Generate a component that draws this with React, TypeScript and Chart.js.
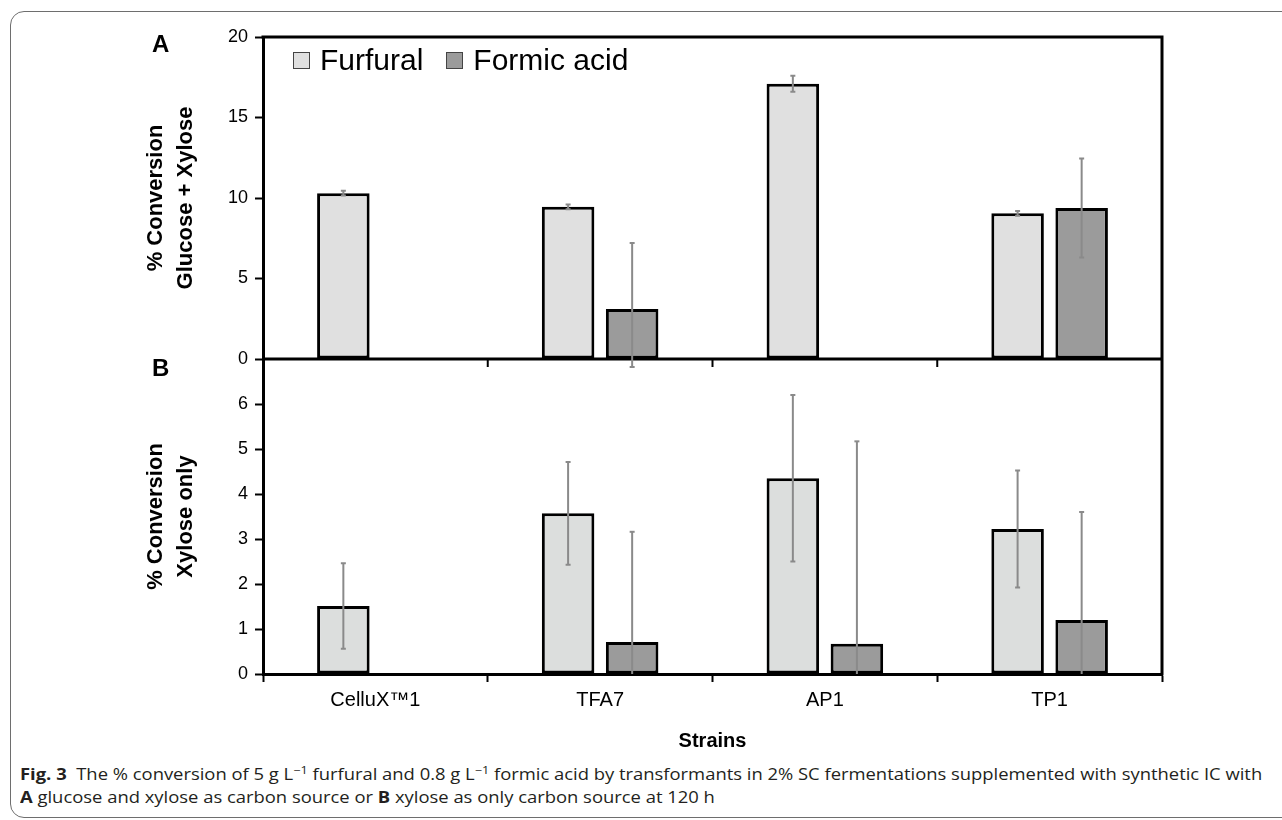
import React, { useEffect, useLayoutEffect, useRef, useState } from 'react';
import { Chart, registerables } from 'chart.js';

Chart.register(...registerables);

const FONT = '"Liberation Sans", Arial, Helvetica, sans-serif';

// ---- data ----
const categories = ['CelluX™1', 'TFA7', 'AP1', 'TP1'];
const seriesNames = ['Furfural', 'Formic acid'];
const seriesColors = ['#e0e0e0', '#9b9b9b'];

// Panel A: glucose + xylose
const furfuralA = [10.3, 9.45, 17.1, 9.05];
const furfuralAErr = [0.15, 0.15, 0.5, 0.15];
const formicA = [null, 3.1, null, 9.38];
const formicAErrUp = [null, 4.1, null, 3.08];
const formicAErrDown = [null, 3.6, null, 3.08];

// Panel B: xylose only
const furfuralB = [1.51, 3.57, 4.35, 3.22];
const furfuralBErr = [0.95, 1.14, 1.85, 1.3];
const formicB = [null, 0.71, 0.67, 1.2];
const formicBErr = [null, 2.45, 4.5, 2.4];

const ticksA = [0, 5, 10, 15, 20];
const ticksB = [0, 1, 2, 3, 4, 5, 6];
const rangeA = [0, 20];
const rangeB = [0, 7];
const titleA = ['% Conversion', 'Glucose + Xylose'];
const titleB = ['% Conversion', 'Xylose only'];
const xTitle = 'Strains';

const framePlugin = {
  id: 'frame',
  afterDatasetsDraw(chart: any) {
    const { ctx, chartArea, scales } = chart;
    const { left, right, top, bottom } = chartArea;
    ctx.save();
    ctx.strokeStyle = '#000';
    ctx.lineWidth = 3;
    ctx.beginPath();
    ctx.moveTo(left - 1.5, top);
    ctx.lineTo(right, top);
    ctx.lineTo(right, bottom + 1.5);
    ctx.stroke();
    const yd = scales.yA.bottom;
    ctx.beginPath();
    ctx.moveTo(left, yd);
    ctx.lineTo(right, yd);
    ctx.stroke();
    ctx.lineWidth = 2;
    const xs = scales.x;
    const n = categories.length;
    for (let i = 1; i < n; i++) {
      const x = xs.getPixelForValue(i - 0.5);
      ctx.beginPath();
      ctx.moveTo(x, yd);
      ctx.lineTo(x, yd + 8);
      ctx.stroke();
    }
    ctx.restore();
  },
};

const errorBarPlugin = {
  id: 'errorBars',
  afterDatasetsDraw(chart: any) {
    const { ctx, chartArea } = chart;
    ctx.save();
    ctx.strokeStyle = '#8a8a8a';
    ctx.lineWidth = 2;
    chart.data.datasets.forEach((ds: any, i: number) => {
      const meta = chart.getDatasetMeta(i);
      const ys = chart.scales[meta.yAxisID];
      meta.data.forEach((el: any, j: number) => {
        const v = ds.data[j];
        if (v == null) return;
        const up = ds.errUp ? ds.errUp[j] : null;
        const down = ds.errDown ? ds.errDown[j] : null;
        if (up == null || down == null) return;
        const x = el.x;
        const y1 = ys.getPixelForValue(v + up);
        let y2 = ys.getPixelForValue(v - down);
        const clipped = y2 > chartArea.bottom;
        if (clipped) y2 = chartArea.bottom;
        ctx.beginPath();
        ctx.moveTo(x, y1);
        ctx.lineTo(x, y2);
        ctx.stroke();
        ctx.beginPath();
        ctx.moveTo(x - 2.5, y1);
        ctx.lineTo(x + 2.5, y1);
        if (!clipped) {
          ctx.moveTo(x - 2.5, y2);
          ctx.lineTo(x + 2.5, y2);
        }
        ctx.stroke();
      });
    });
    ctx.restore();
  },
};

function yScale(stackWeight: number, range: number[], ticks: number[], title: string[]) {
  return {
    type: 'linear',
    position: 'left',
    stack: 'panels',
    stackWeight,
    stacked: false,
    min: range[0],
    max: range[1],
    afterBuildTicks: (s: any) => {
      s.ticks = ticks.map((v) => ({ value: v }));
    },
    afterFit: (s: any) => {
      s.width = 133;
    },
    grid: {
      drawOnChartArea: false,
      drawTicks: true,
      tickLength: 8,
      tickColor: '#000',
      tickWidth: 2,
    },
    border: { display: true, color: '#000', width: 3 },
    ticks: { color: '#000', font: { family: FONT, size: 18 }, padding: 7 },
    title: {
      display: true,
      text: title,
      color: '#000',
      font: { family: FONT, size: 22, weight: 'bold', lineHeight: 1.36 },
      padding: { top: 11, bottom: 0 },
    },
  };
}

export default function App() {
  const canvasRef = useRef<HTMLCanvasElement>(null);
  const line1Ref = useRef<HTMLSpanElement>(null);
  const [capScale, setCapScale] = useState(1);

  useEffect(() => {
    const ds = (label: string, data: any[], color: string, axis: string, stack: string, up: any[], down: any[]) => ({
      label,
      data,
      yAxisID: axis,
      stack,
      backgroundColor: color,
      borderColor: '#000',
      borderWidth: 3,
      borderSkipped: false,
      categoryPercentage: 0.57,
      barPercentage: 0.82,
      errUp: up,
      errDown: down,
    });
    const chart = new Chart(canvasRef.current!, {
      type: 'bar',
      data: {
        labels: categories,
        datasets: [
          ds(seriesNames[0], furfuralA, seriesColors[0], 'yA', 's0', furfuralAErr, furfuralAErr),
          ds(seriesNames[1], formicA, seriesColors[1], 'yA', 's1', formicAErrUp, formicAErrDown),
          ds(seriesNames[0], furfuralB, '#dcdedd', 'yB', 's0', furfuralBErr, furfuralBErr),
          ds(seriesNames[1], formicB, seriesColors[1], 'yB', 's1', formicBErr, formicBErr),
        ] as any,
      },
      options: {
        responsive: false,
        devicePixelRatio: 1,
        animation: false,
        layout: { padding: { left: 130, top: 37, right: 120, bottom: 0 } },
        plugins: { legend: { display: false }, tooltip: { enabled: false } },
        scales: {
          x: {
            type: 'category',
            offset: true,
            grid: {
              offset: true,
              drawOnChartArea: false,
              drawTicks: true,
              tickLength: 8,
              tickColor: '#000',
              tickWidth: 2,
            },
            border: { display: true, color: '#000', width: 3 },
            ticks: {
              color: '#000',
              font: { family: FONT, size: 20 },
              padding: 6,
              maxRotation: 0,
              autoSkip: false,
            },
            title: {
              display: true,
              text: xTitle,
              color: '#000',
              font: { family: FONT, size: 20, weight: 'bold' },
              padding: { top: 0, bottom: 7 },
            },
            afterFit: (s: any) => {
              s.height = 86;
            },
          },
          yB: yScale(315, rangeB, ticksB, titleB),
          yA: yScale(322, rangeA, ticksA, titleA),
        } as any,
      },
      plugins: [framePlugin, errorBarPlugin],
    });
    return () => chart.destroy();
  }, []);

  useLayoutEffect(() => {
    if (line1Ref.current) {
      const w = line1Ref.current.offsetWidth;
      if (w > 0) setCapScale(1242 / w);
    }
  }, []);

  const sup = (t: string) => (
    <sup style={{ fontSize: '11px', lineHeight: 0, verticalAlign: '6px' }}>{t}</sup>
  );

  return (
    <div style={{ position: 'absolute', left: 0, top: 0, width: 1282, height: 820, overflow: 'hidden', background: '#fff' }}>
      <div
        style={{
          position: 'absolute',
          left: 10,
          top: 11,
          width: 1320,
          height: 807,
          border: '1.5px solid #6e6e6e',
          borderRadius: 14,
          boxSizing: 'border-box',
        }}
      />
      <canvas ref={canvasRef} width={1282} height={760} style={{ position: 'absolute', left: 0, top: 0 }} />
      <div style={{ position: 'absolute', left: 152, top: 32, font: `bold 24px/24px ${FONT}`, color: '#000' }}>A</div>
      <div style={{ position: 'absolute', left: 152, top: 356, font: `bold 24px/24px ${FONT}`, color: '#000' }}>B</div>
      <div
        style={{
          position: 'absolute',
          left: 293,
          top: 45,
          display: 'flex',
          alignItems: 'center',
          font: `30px/30px ${FONT}`,
          color: '#000',
        }}
      >
        {seriesNames.map((name, i) => (
          <div key={name} style={{ display: 'flex', alignItems: 'center', marginRight: 23 }}>
            <div
              style={{
                width: 17,
                height: 17,
                background: seriesColors[i],
                border: '1.5px solid #444',
                boxSizing: 'border-box',
                marginRight: 10,
              }}
            />
            <span>{name}</span>
          </div>
        ))}
      </div>
      <div
        style={{
          position: 'absolute',
          left: 20,
          top: 763,
          font: `16px/23px "Open Sans", "Noto Sans", sans-serif`,
          color: '#231f20',
          transform: `scaleX(${capScale})`,
          transformOrigin: 'left top',
          whiteSpace: 'nowrap',
        }}
      >
        <div>
          <span ref={line1Ref} style={{ display: 'inline-block' }}>
            <b>Fig. 3</b>&nbsp; The % conversion of 5 g L{sup('−1')} furfural and 0.8 g L{sup('−1')} formic acid by
            transformants in 2% SC fermentations supplemented with synthetic IC with
          </span>
        </div>
        <div>
          <b>A</b> glucose and xylose as carbon source or <b>B</b> xylose as only carbon source at 120 h
        </div>
      </div>
    </div>
  );
}
